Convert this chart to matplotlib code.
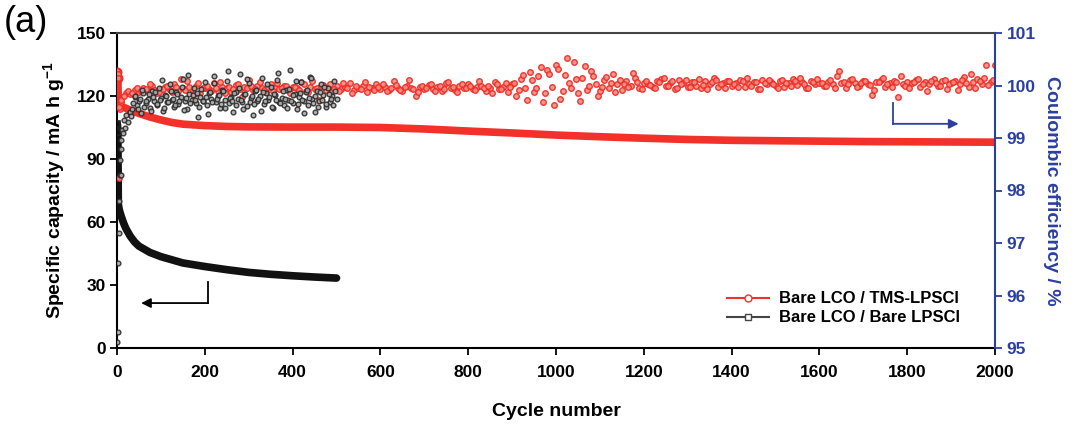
import numpy as np
import matplotlib
matplotlib.use('Agg')
import matplotlib.pyplot as plt
from matplotlib.lines import Line2D

plt.rcParams['font.family'] = ['Liberation Sans', 'DejaVu Sans']
plt.rcParams['font.weight'] = 'bold'
plt.rcParams['axes.labelweight'] = 'bold'
plt.rcParams['mathtext.fontset'] = 'custom'
plt.rcParams['mathtext.rm'] = 'Liberation Sans:bold'
plt.rcParams['mathtext.default'] = 'rm'

# capacity, Bare LCO / TMS-LPSCl (left axis)
tms_cap_cyc = [1, 2, 3, 5, 10, 20, 30, 40, 50, 75, 100, 125, 150, 200, 250, 300, 400, 500, 600,
               700, 800, 900, 1000, 1100, 1200, 1300, 1400, 1500, 1600, 1700, 1800, 1900, 2000]
tms_cap = [131.5, 128.8, 115.8, 115.4, 115.0, 114.2, 113.3, 112.5, 111.7, 110.0, 108.6, 107.4, 106.6,
           105.9, 105.5, 105.3, 105.2, 105.2, 105.0, 104.3, 103.3, 102.4, 101.4, 100.6, 99.9, 99.3,
           98.9, 98.7, 98.5, 98.3, 98.2, 98.1, 98.0]

# capacity, Bare LCO / Bare LPSCl (left axis)
bare_cap_cyc = [1, 2, 3, 5, 7, 10, 15, 20, 30, 40, 50, 75, 100, 150, 200, 250, 300, 350, 400, 450, 500]
bare_cap = [106.5, 103.0, 68.5, 66.0, 64.5, 62.5, 59.5, 57.0, 53.3, 50.5, 48.5, 45.5, 43.5, 40.5,
            38.8, 37.3, 36.0, 35.1, 34.4, 33.8, 33.3]

# coulombic efficiency, TMS-LPSCl (right axis)
tms_ce_early_cyc = [1, 2, 3, 4, 6, 8]
tms_ce_early = [100.28, 100.22, 100.15, 98.24, 99.55, 99.68]
tms_ce_cyc = np.arange(10, 2001, 10)
tms_ce = [
    99.72, 99.86, 99.84, 99.92, 99.88, 99.95, 99.90, 99.99, 99.86, 99.94,
    99.97, 99.91, 100.02, 99.89, 99.95, 100.08, 99.93, 99.99, 99.86, 99.96,
    99.93, 100.04, 99.90, 99.98, 99.95, 99.88, 100.01, 99.94, 99.97, 100.10,
    99.92, 99.99, 99.95, 99.87, 100.03, 99.96, 99.93, 100.00, 99.91, 99.97,
    99.95, 100.06, 99.90, 99.98, 99.94, 99.72, 100.01, 99.96, 99.89, 99.99,
    99.93, 99.97, 100.04, 99.91, 99.96, 99.99, 99.88, 99.95, 100.02, 99.94,
    99.97, 99.92, 100.08, 99.95, 99.90, 100.00, 99.96, 99.80, 99.98, 99.93,
    100.01, 99.94, 99.97, 99.89, 100.05, 99.96, 99.92, 99.99, 99.95, 100.03,
    99.93, 99.97, 100.00, 99.90, 99.96, 100.06, 99.94, 99.98, 99.87, 100.02,
    99.80, 100.12, 99.95, 100.25, 99.88, 100.18, 99.68, 100.30, 99.98, 100.40,
    99.75, 100.20, 100.05, 100.45, 99.85, 100.15, 99.92, 100.28, 100.02, 99.90,
    100.10, 99.96, 100.22, 100.03, 99.92, 100.08, 100.00, 100.14, 99.95, 100.05,
    100.02, 99.97, 100.08, 100.12, 99.99, 100.05, 99.93, 100.10, 100.04, 99.98,
    100.06, 100.00, 99.95, 100.09, 100.03, 100.15, 99.97, 100.04, 100.08, 99.99,
    100.05, 100.11, 99.98, 100.03, 100.07, 99.94, 100.10, 100.02, 100.06, 100.00,
    100.08, 99.97, 100.04, 100.13, 100.01, 100.06, 99.96, 100.09, 100.03, 100.05,
    99.99, 100.07, 100.02, 100.18, 100.05, 99.95, 100.10, 100.04, 100.00, 100.08,
    100.03, 99.82, 100.06, 100.11, 99.98, 100.05, 100.09, 99.78, 100.02, 100.07,
    100.04, 100.10, 99.97, 100.06, 100.02, 100.13, 100.00, 100.08, 99.94, 100.05,
    100.09, 100.03, 100.16, 99.98, 100.07, 100.12, 100.02, 100.40, 100.06, 100.40,
]
tms_ce2_cyc = np.arange(5, 2000, 10)
tms_ce2 = [
    99.60, 99.80, 99.90, 99.85, 99.96, 99.89, 99.93, 100.03, 99.91, 99.87,
    99.94, 100.00, 99.88, 99.97, 100.12, 99.92, 99.98, 99.84, 100.04, 99.95,
    99.99, 99.90, 99.96, 100.06, 99.86, 99.97, 99.93, 100.02, 99.78, 99.95,
    100.00, 99.94, 100.07, 99.91, 99.98, 99.89, 100.04, 99.95, 99.99, 99.86,
    99.97, 99.92, 100.03, 99.88, 100.09, 99.95, 99.99, 99.91, 100.02, 99.94,
    99.90, 100.05, 99.96, 99.85, 100.00, 99.93, 100.07, 99.97, 99.91, 99.98,
    100.03, 99.89, 99.96, 100.01, 99.92, 99.98, 100.10, 99.94, 99.87, 100.00,
    99.95, 100.02, 99.90, 99.99, 99.94, 100.06, 99.97, 99.88, 100.03, 99.96,
    100.00, 99.91, 100.08, 99.95, 99.99, 99.86, 100.02, 99.93, 100.05, 99.97,
    100.05, 99.92, 100.20, 99.72, 100.10, 99.96, 100.35, 99.85, 100.22, 99.62,
    100.32, 99.90, 100.52, 99.95, 100.12, 99.70, 100.38, 100.00, 100.18, 99.80,
    99.98, 100.16, 100.04, 99.88, 100.10, 100.02, 99.97, 100.24, 100.06, 99.94,
    100.09, 100.01, 99.95, 100.06, 100.14, 100.00, 100.08, 99.96, 100.03, 100.11,
    99.98, 100.07, 100.12, 100.01, 99.94, 100.06, 100.10, 100.02, 99.96, 100.08,
    100.03, 99.97, 100.09, 100.14, 100.00, 100.06, 99.93, 100.05, 100.11, 100.02,
    99.96, 100.10, 100.04, 99.99, 100.08, 100.15, 100.02, 99.95, 100.07, 100.12,
    100.05, 100.00, 100.10, 99.96, 100.28, 100.06, 100.02, 100.13, 99.97, 100.04,
    100.09, 100.01, 99.92, 100.07, 100.14, 100.03, 99.98, 100.06, 100.18, 100.00,
    99.96, 100.07, 100.12, 100.03, 99.90, 100.09, 100.05, 99.99, 100.11, 100.02,
    100.06, 99.92, 100.10, 100.04, 100.22, 99.96, 100.08, 100.14, 100.01, 100.10,
]

# coulombic efficiency, Bare LPSCl (right axis)
bare_ce_early_cyc = [1, 2, 3, 4, 5, 6, 7, 8, 9, 10, 12, 14, 16, 18, 20, 25, 30]
bare_ce_early = [95.12, 95.30, 96.62, 97.20, 97.80, 98.30, 98.58, 98.30, 98.80, 98.96,
                 99.16, 99.10, 99.34, 99.20, 99.44, 99.30, 99.50]
bare_ce_cyc = np.arange(35, 501, 5)
bare_ce = [
    99.55, 99.78, 99.62, 99.70, 99.48, 99.85, 99.66, 99.74, 99.58, 99.90,
    99.70, 99.62, 99.95, 99.76, 99.52, 99.82, 99.68, 100.02, 99.73, 99.60,
    99.88, 99.64, 99.79, 100.12, 99.70, 99.56, 99.84, 99.73, 99.96, 99.66,
    99.40, 99.78, 99.70, 100.06, 99.62, 99.85, 99.75, 100.18, 99.68, 99.80,
    99.58, 99.92, 99.72, 100.08, 99.66, 99.79, 99.50, 99.87, 99.74, 100.22,
    99.69, 99.83, 99.61, 100.04, 99.76, 99.44, 99.90, 99.71, 99.80, 100.14,
    99.64, 99.86, 99.73, 99.98, 99.57, 99.81, 100.10, 99.69, 99.77, 99.62,
    99.92, 99.72, 100.30, 99.66, 99.84, 99.55, 99.78, 100.06, 99.70, 99.88,
    99.63, 100.16, 99.75, 99.49, 99.90, 99.71, 100.02, 99.82, 99.60, 99.95,
    99.68, 99.80, 100.08, 99.74,
]
bare_ce2_cyc = np.arange(32, 500, 5)
bare_ce2 = [
    99.42, 99.66, 99.80, 99.55, 99.74, 99.92, 99.60, 99.70, 99.83, 99.52,
    99.78, 99.88, 99.64, 99.72, 100.10, 99.58, 99.80, 99.69, 99.90, 99.75,
    99.62, 99.84, 99.70, 99.98, 99.54, 99.77, 100.20, 99.66, 99.81, 99.72,
    99.86, 99.60, 99.94, 99.71, 99.79, 99.46, 99.88, 99.68, 100.04, 99.74,
    99.82, 99.65, 99.90, 99.58, 100.28, 99.76, 99.70, 99.86, 99.62, 99.96,
    99.73, 99.55, 99.84, 100.12, 99.68, 99.80, 99.64, 99.92, 99.74, 99.51,
    99.87, 99.70, 100.02, 99.78, 99.60, 99.83, 99.72, 100.24, 99.66, 99.89,
    99.75, 99.58, 99.94, 99.70, 99.82, 100.08, 99.64, 99.86, 99.73, 99.48,
    99.91, 99.76, 100.14, 99.67, 99.80, 99.59, 99.88, 99.72, 99.98, 99.65,
    99.84, 99.74, 99.62, 99.90,
]

red = '#f2312a'
blue = '#2b3fa3'

fig = plt.figure(figsize=(10.8, 4.26), dpi=100)
ax = fig.add_axes([117/1080, 1-348/426, 878/1080, 315/426])
ax2 = ax.twinx()

# capacity bands
ax.plot(tms_cap_cyc, tms_cap, color=red, lw=5.5, solid_capstyle='round', zorder=3)
ax.plot(tms_cap_cyc[:2], tms_cap[:2], 'o', mfc='none', mec=red, ms=6, mew=1.2, zorder=3)
ax.plot(bare_cap_cyc, bare_cap, color='#111111', lw=5.5, solid_capstyle='round', zorder=4)
ax.plot(bare_cap_cyc[:2], bare_cap[:2], 's', mfc='none', mec='#222222', ms=5, mew=1.2, zorder=4)

# coulombic efficiency scatter
red_kw = dict(ls='none', marker='o', mfc='#f58a80', mec='#ee2a22', ms=4.0, mew=1.0, alpha=0.9)
blk_kw = dict(ls='none', marker='o', mfc='#aaaaaa', mec='#2a2a2a', ms=3.4, mew=1.0, alpha=0.9)
ax2.plot(tms_ce_early_cyc, tms_ce_early, **red_kw)
ax2.plot(tms_ce_cyc, tms_ce, **red_kw)
ax2.plot(tms_ce2_cyc, tms_ce2, **red_kw)
ax2.plot(bare_ce_early_cyc, bare_ce_early, **blk_kw)
ax2.plot(bare_ce_cyc, bare_ce, **blk_kw)
ax2.plot(bare_ce2_cyc, bare_ce2, **blk_kw)

ax.set_xlim(0, 2000)
ax.set_ylim(0, 150)
ax2.set_ylim(95, 101)
ax.set_xticks(range(0, 2001, 200))
ax.set_yticks(range(0, 151, 30))
ax2.set_yticks(range(95, 102))

ax.tick_params(axis='both', direction='out', length=5, width=1.3, labelsize=12.5, pad=3)
ax.tick_params(axis='x', pad=7)
ax2.tick_params(axis='y', direction='out', length=5, width=1.3, labelsize=12.5, colors=blue)
for s in ['left', 'bottom', 'top']:
    ax2.spines[s].set_visible(False)
for s in ['left', 'bottom']:
    ax.spines[s].set_linewidth(1.5)
ax.spines['top'].set_linewidth(1.5)
ax.spines['top'].set_color('#444444')
ax.spines['right'].set_visible(False)
ax2.spines['right'].set_color(blue)
ax2.spines['right'].set_linewidth(1.5)

ax.set_xlabel('Cycle number', fontsize=14, labelpad=17)
ax.set_ylabel('Specific capacity / mA h g$^{-1}$', fontsize=14, labelpad=7)
ax2.set_ylabel('Coulombic efficiency / %', fontsize=14, color=blue, rotation=270, labelpad=17)

# guide arrows
ax.plot([207, 207], [31.4, 21.4], color='black', lw=1.3)
ax.annotate('', xy=(55, 21.4), xytext=(207.6, 21.4),
            arrowprops=dict(arrowstyle='-|>', color='black', lw=1.3, mutation_scale=14, shrinkA=0, shrinkB=0))
ax2.plot([1768, 1768], [99.67, 99.27], color=blue, lw=1.3)
ax2.annotate('', xy=(1917, 99.27), xytext=(1767.4, 99.27),
             arrowprops=dict(arrowstyle='-|>', color=blue, lw=1.3, mutation_scale=14, shrinkA=0, shrinkB=0))

handles = [Line2D([], [], color=red, marker='o', mfc='white', mec=red, ms=5, lw=1.5),
           Line2D([], [], color='#444444', marker='s', mfc='white', mec='#444444', ms=4.5, lw=1.5)]
fig.legend(handles, ['Bare LCO / TMS-LPSCl', 'Bare LCO / Bare LPSCl'], loc='upper left',
           bbox_to_anchor=(719/1080, 1-283/426), frameon=False, fontsize=12, borderpad=0,
           handlelength=2.5, handletextpad=0.6, labelspacing=0.25)

fig.text(4/1080, 1-23/426, '(a)', fontsize=26, fontweight='normal', va='center', ha='left')

fig.savefig('out.png', dpi=100)
